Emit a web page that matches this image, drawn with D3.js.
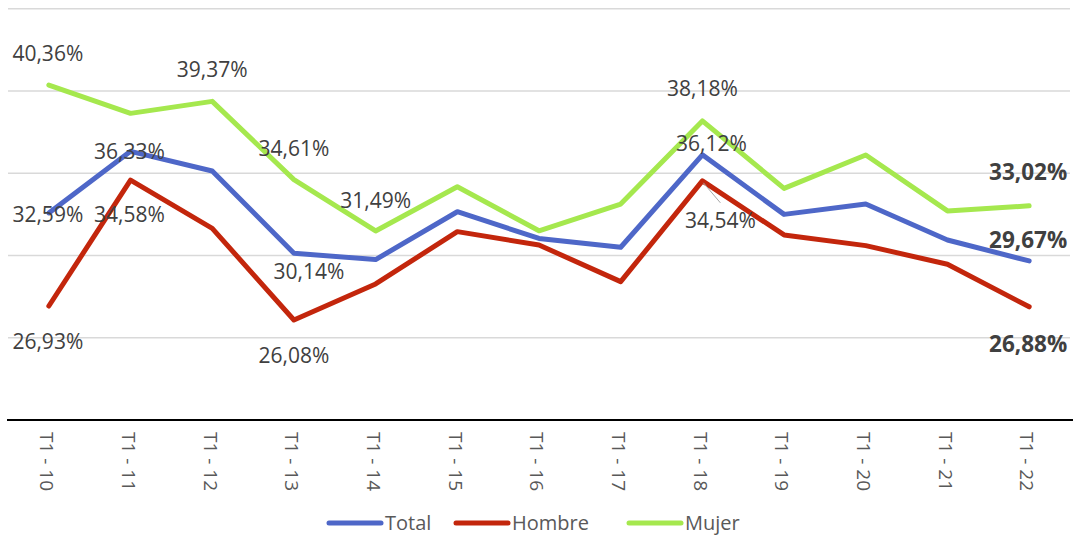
<!DOCTYPE html>
<html>
<head>
<meta charset="utf-8">
<script src="https://cdn.jsdelivr.net/npm/d3@7"></script>
<style>
  body { margin: 0; background: #fff; }
  svg { display: block; font-family: "Open Sans", sans-serif; }
</style>
</head>
<body>
<div id="chart"></div>
<script>
// Line chart: Total / Hombre / Mujer, T1-10 .. T1-22

const periods = ["T1 - 10", "T1 - 11", "T1 - 12", "T1 - 13", "T1 - 14", "T1 - 15", "T1 - 16",
  "T1 - 17", "T1 - 18", "T1 - 19", "T1 - 20", "T1 - 21", "T1 - 22"];

const total = [32.59, 36.33, 35.14, 30.14, 29.75, 32.66, 31.04, 30.50, 36.12, 32.50, 33.13, 30.94, 29.67];
const hombre = [26.93, 34.58, 31.65, 26.08, 28.27, 31.45, 30.64, 28.41, 34.54, 31.25, 30.60, 29.47, 26.88];
const mujer = [40.36, 38.64, 39.37, 34.61, 31.49, 34.18, 31.50, 33.13, 38.18, 34.08, 36.11, 32.71, 33.02];

const yTicks = [20, 25, 30, 35, 40, 45];

const series = [
  { name: "Total", values: total, color: "#4e67c8" },
  { name: "Hombre", values: hombre, color: "#c3260c" },
  { name: "Mujer", values: mujer, color: "#a5e84e" }];

// which points get a data label, and where it sits (baseline offset from the point)
const labelSpots = [
  { s: 2, i: 0, dx: -1, dy: -24 },
  { s: 2, i: 2, dx: 0, dy: -24 },
  { s: 2, i: 3, dx: 0, dy: -24 },
  { s: 2, i: 4, dx: 0, dy: -23 },
  { s: 2, i: 8, dx: 0, dy: -25 },
  { s: 2, i: 12, dx: -1, dy: -26, bold: true },
  { s: 0, i: 0, dx: -1, dy: 9 },
  { s: 0, i: 1, dx: -1, dy: 8 },
  { s: 0, i: 3, dx: 15, dy: 26 },
  { s: 0, i: 8, dx: 9, dy: -4 },
  { s: 0, i: 12, dx: -1, dy: -13, bold: true },
  { s: 1, i: 0, dx: -1, dy: 43 },
  { s: 1, i: 1, dx: -1, dy: 42 },
  { s: 1, i: 3, dx: 0, dy: 43 },
  { s: 1, i: 8, dx: 18, dy: 47, leader: true },
  { s: 1, i: 12, dx: -1, dy: 45, bold: true }];

const W = 1073, H = 535;

const svg = d3.select("#chart").
append("svg").
attr("width", W).
attr("height", H);

const x = d3.scaleBand().
domain(periods).
range([8, 1070]);

const y = d3.scaleLinear().
domain([20, 45]).
range([420, 8.75]);

const cx = p => x(p) + x.bandwidth() / 2;

// Gridlines
svg.append("g").
selectAll("line").
data(yTicks.slice(1)).
join("line").
attr("x1", 8).
attr("x2", 1070).
attr("y1", d => y(d)).
attr("y2", d => y(d)).
attr("stroke", "#d9d9d9").
attr("stroke-width", 1.5);

// Category axis
svg.append("line").
attr("x1", 7).
attr("x2", 1073).
attr("y1", y(20)).
attr("y2", y(20)).
attr("stroke", "#000").
attr("stroke-width", 2);

svg.append("g").
selectAll("text").
data(periods).
join("text").
attr("transform", d => `translate(${cx(d) - 2} 432) rotate(90)`).
attr("dy", "0.35em").
attr("fill", "#595959").
style("font-size", "19px").
text(d => d);

// Lines
const line = d3.line().
x((d, i) => cx(periods[i])).
y(d => y(d));

svg.append("g").
selectAll("path").
data(series).
join("path").
attr("d", d => line(d.values)).
attr("fill", "none").
attr("stroke", d => d.color).
attr("stroke-width", 5).
attr("stroke-linejoin", "round").
attr("stroke-linecap", "round");

// Leader line for the moved label
labelSpots.filter(l => l.leader).forEach(l => {
  const px = cx(periods[l.i]), py = y(series[l.s].values[l.i]);
  svg.append("line").
  attr("x1", px + 1).
  attr("y1", py + 2).
  attr("x2", px + 18).
  attr("y2", py + 22).
  attr("stroke", "#a6a6a6").
  attr("stroke-width", 1);
});

// Data labels
const fmt = v => v.toFixed(2).replace(".", ",") + "%";

svg.append("g").
selectAll("text").
data(labelSpots).
join("text").
attr("x", d => cx(periods[d.i]) + d.dx).
attr("y", d => y(series[d.s].values[d.i]) + d.dy).
attr("text-anchor", "middle").
attr("fill", "#404040").
style("font-size", d => d.bold ? "22.5px" : "21px").
style("font-weight", d => d.bold ? "bold" : "normal").
text(d => fmt(series[d.s].values[d.i]));

// Legend
const legendX = [329, 456, 629];

const legend = svg.append("g").
selectAll("g").
data(series).
join("g").
attr("transform", (d, i) => `translate(${legendX[i]} 523)`);

legend.append("line").
attr("x1", 0).
attr("x2", 52).
attr("stroke", d => d.color).
attr("stroke-width", 5).
attr("stroke-linecap", "round");

legend.append("text").
attr("x", 56).
attr("y", 7).
attr("fill", "#595959").
style("font-size", "20px").
text(d => d.name);
</script>
</body>
</html>
